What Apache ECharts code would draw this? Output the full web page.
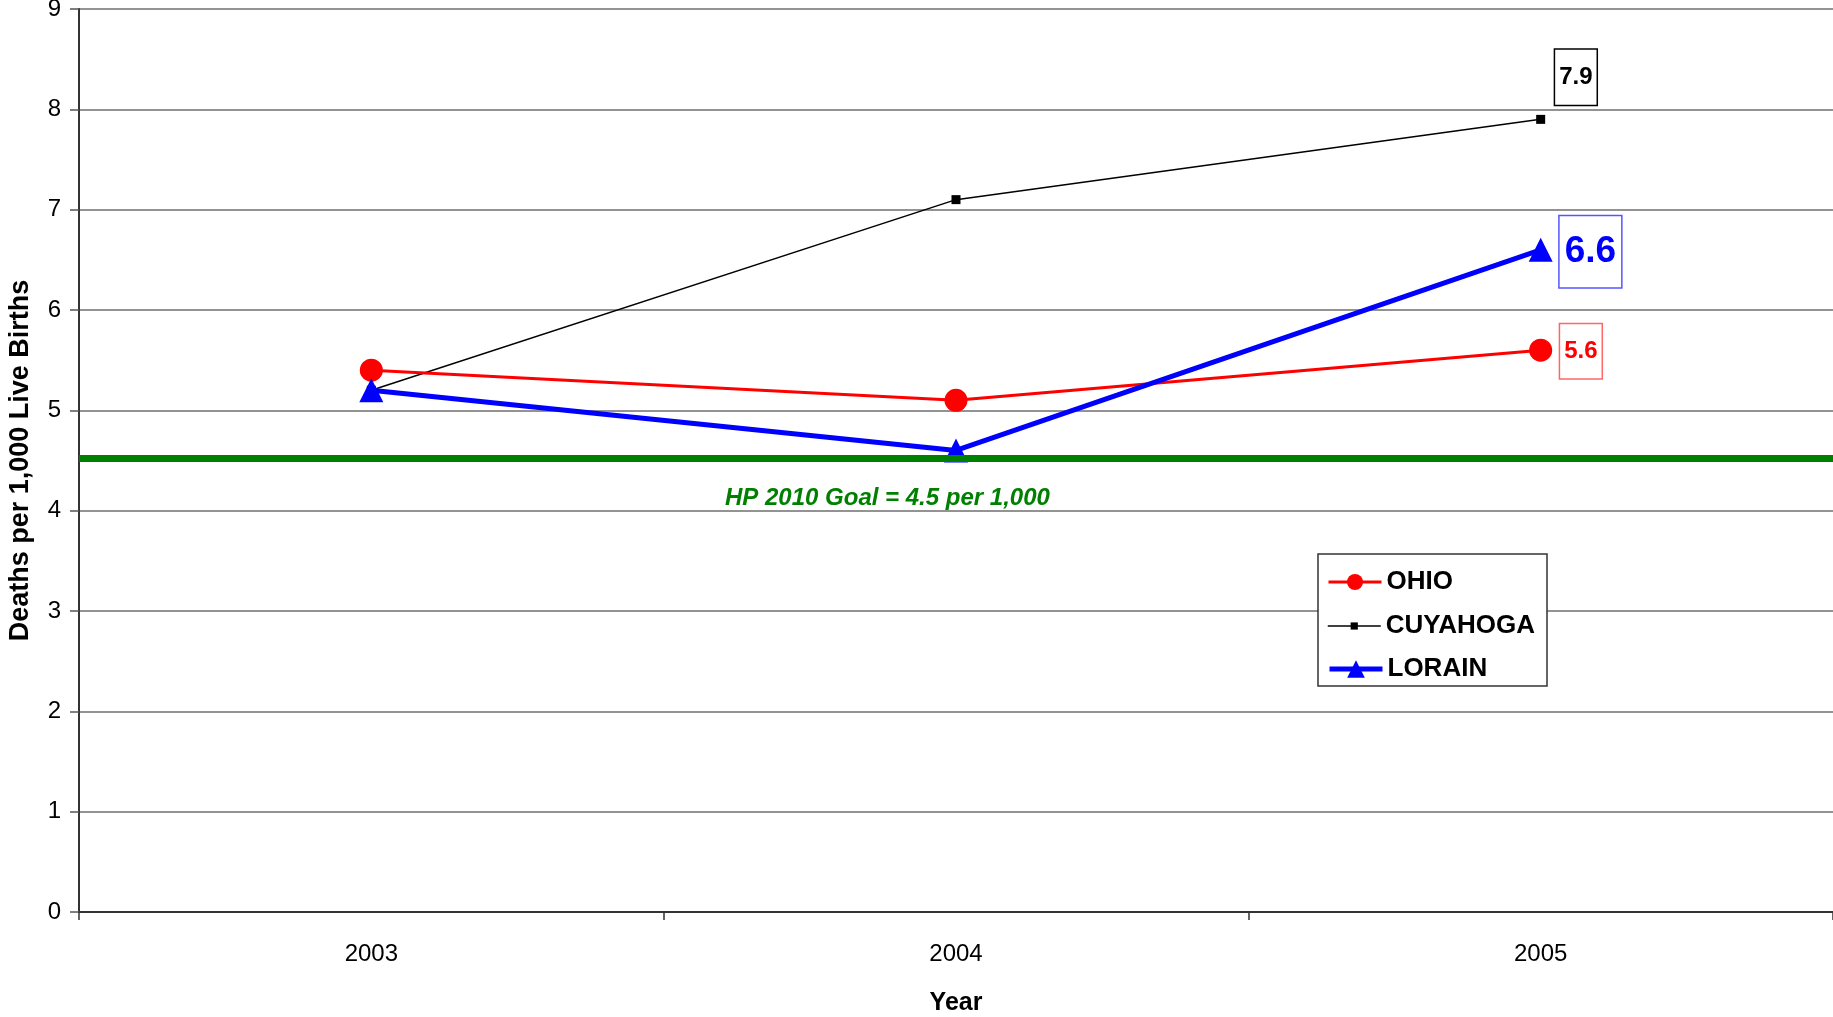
<!DOCTYPE html>
<html>
<head>
<meta charset="utf-8">
<script src="https://cdn.jsdelivr.net/npm/echarts@6/dist/echarts.min.js"></script>
<style>html,body{margin:0;padding:0;background:#fff;}#c{width:1833px;height:1017px;}</style>
</head>
<body>
<div id="c"></div>
<script>
const years = ['2003', '2004', '2005'];
const ohio = [5.4, 5.1, 5.6];
const cuyahoga = [5.2, 7.1, 7.9];
const lorain = [5.2, 4.6, 6.6];
const goalLine = 4.52;
const goalText = 'HP 2010 Goal = 4.5 per 1,000';
const yTicks = [0, 1, 2, 3, 4, 5, 6, 7, 8, 9];
const seriesNames = ['OHIO', 'CUYAHOGA', 'LORAIN'];

const FONT = '"Liberation Sans", Arial, sans-serif';

function lastLabel(values, labelCfg) {
  return values.map((v, i) => i === values.length - 1 ? { value: v, label: labelCfg } : v);
}

const legendText = { fontFamily: FONT, fontWeight: 'bold', fontSize: 26, color: '#000', lineHeight: 30 };
function oneLegend(name, top, itemHeight, lineWidth) {
  return {
    orient: 'vertical',
    left: 1327,
    top: top,
    padding: 0,
    itemWidth: 53,
    itemHeight: itemHeight,
    itemGap: 0,
    textStyle: legendText,
    lineStyle: { width: lineWidth },
    data: [name],
    z: 20
  };
}

const chart = echarts.init(document.getElementById('c'), null, { renderer: 'canvas' });
chart.setOption({
  animation: false,
  backgroundColor: '#fff',
  grid: { left: 79, right: 0, top: 9, bottom: 105, containLabel: false, outerBoundsMode: 'none' },
  xAxis: {
    type: 'category',
    data: years,
    boundaryGap: true,
    name: 'Year',
    nameLocation: 'middle',
    nameGap: 79,
    nameTextStyle: { fontFamily: FONT, fontWeight: 'bold', fontSize: 25, color: '#000' },
    axisLine: { lineStyle: { color: '#333', width: 2 } },
    axisTick: { show: true, length: 8, alignWithLabel: false, lineStyle: { color: '#333', width: 1.5 } },
    axisLabel: { fontFamily: FONT, fontSize: 24, color: '#000', margin: 30 },
    splitLine: { show: false }
  },
  yAxis: {
    type: 'value',
    min: yTicks[0],
    max: yTicks[yTicks.length - 1],
    interval: 1,
    name: 'Deaths per 1,000 Live Births',
    nameLocation: 'middle',
    nameGap: 45,
    nameRotate: 90,
    nameTextStyle: { fontFamily: FONT, fontWeight: 'bold', fontSize: 27, color: '#000' },
    axisLine: { show: true, lineStyle: { color: '#333', width: 2 } },
    axisTick: { show: true, length: 9, lineStyle: { color: '#555', width: 1.5 } },
    axisLabel: { fontFamily: FONT, fontSize: 24, color: '#000', margin: 18 },
    splitLine: { show: true, lineStyle: { color: '#6f6f6f', width: 1.5 } }
  },
  legend: [
    oneLegend(seriesNames[0], 567, 20, 3),
    oneLegend(seriesNames[1], 611, 9, 1.5),
    oneLegend(seriesNames[2], 654, 22, 5)
  ],
  graphic: [
    {
      type: 'rect',
      z: 15,
      shape: { x: 1318, y: 554, width: 229, height: 132 },
      style: { fill: '#fff', stroke: '#333', lineWidth: 1.5 }
    },
    {
      type: 'text',
      left: 725,
      top: 486,
      z: 100,
      style: {
        text: goalText,
        fill: '#008000',
        font: 'italic bold 24px ' + FONT
      }
    }
  ],
  series: [
    {
      name: seriesNames[1],
      type: 'line',
      data: lastLabel(cuyahoga, {
        show: true, position: 'right', distance: 10, offset: [0, -42],
        fontFamily: FONT, fontWeight: 'bold', fontSize: 24, color: '#000',
        borderColor: '#000', borderWidth: 1.5, backgroundColor: '#fff',
        padding: [14, 4, 13, 4], lineHeight: 28
      }),
      symbol: 'rect',
      symbolSize: 9,
      color: '#000',
      lineStyle: { color: '#000', width: 1.5 },
      itemStyle: { color: '#000' },
      z: 3
    },
    {
      name: seriesNames[0],
      type: 'line',
      data: lastLabel(ohio, {
        show: true, position: 'right', distance: 8, offset: [0, 1],
        fontFamily: FONT, fontWeight: 'bold', fontSize: 24, color: '#ff0000',
        borderColor: '#ff6666', borderWidth: 1.5, backgroundColor: '#fff',
        padding: [13, 4, 13, 4], lineHeight: 28
      }),
      symbol: 'circle',
      symbolSize: 23,
      color: '#ff0000',
      lineStyle: { color: '#ff0000', width: 3 },
      itemStyle: { color: '#ff0000' },
      z: 4
    },
    {
      name: seriesNames[2],
      type: 'line',
      data: lastLabel(lorain, {
        show: true, position: 'right', distance: 7, offset: [0, 2],
        fontFamily: FONT, fontWeight: 'bold', fontSize: 37, color: '#0000ff',
        borderColor: '#5555ff', borderWidth: 1.5, backgroundColor: '#fff',
        padding: [16, 5, 15, 5], lineHeight: 40
      }),
      symbol: 'triangle',
      symbolSize: 24,
      color: '#0000ff',
      lineStyle: { color: '#0000ff', width: 5 },
      itemStyle: { color: '#0000ff' },
      z: 5
    },
    {
      name: 'goal',
      type: 'line',
      data: [],
      z: 10,
      markLine: {
        silent: true,
        symbol: ['none', 'none'],
        z: 10,
        label: { show: false },
        lineStyle: { color: '#008000', width: 7, type: 'solid' },
        data: [{ yAxis: goalLine }]
      }
    }
  ]
});
</script>
</body>
</html>
